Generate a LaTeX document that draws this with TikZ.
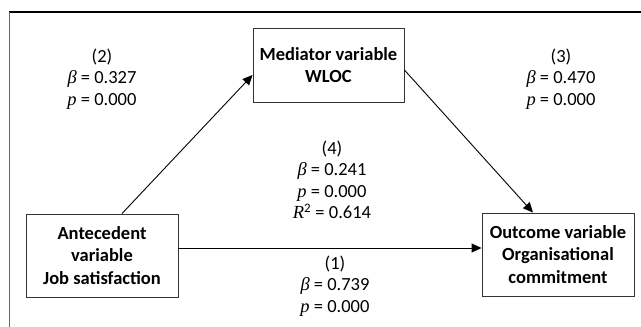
\documentclass[tikz,border=0pt]{standalone}
\usepackage{fontspec}
\setmainfont{Carlito}
\newfontfamily\serfont{Liberation Serif}
\usetikzlibrary{arrows.meta}
\newcommand{\mybeta}{{\serfont\itshape β}}
\newcommand{\myp}{{\serfont\itshape p}}
\newcommand{\myR}{{\serfont\itshape R}}
\begin{document}
\begin{tikzpicture}[x=1pt,y=-1pt,
  varbox/.style={draw=black!80, line width=0.9pt, align=center, font=\fontsize{18.5}{22.5}\selectfont\bfseries, inner sep=0pt},
  stat/.style={align=center, font=\fontsize{18.5}{21.5}\selectfont, inner sep=0pt},
  link/.style={line width=0.9pt, -{Triangle[length=10pt,width=9pt]}},
  frameline/.style={line width=1.3pt, black},
  frameside/.style={line width=0.9pt, black!60}]
\useasboundingbox (0,0) rectangle (641,327);
% frame
\coordinate (ftl) at (9,12);
\coordinate (ftr) at (641,12);
\coordinate (fbl) at (9,327);
\draw[frameline] (ftl) -- (ftr);
\draw[frameside] (ftl) -- (fbl);
% boxes
\node[varbox, minimum width=151pt, minimum height=74pt] (med) at (328.5,65) {Mediator variable\\WLOC};
\node[varbox, minimum width=152pt, minimum height=83pt] (ant) at (102,255.5) {Antecedent\\variable\\Job satisfaction};
\node[varbox, minimum width=152pt, minimum height=83pt] (out) at (558,254.5) {Outcome variable\\Organisational\\commitment};
% connectors
\draw[link] ([xshift=20pt]ant.north) -- ([yshift=-10pt]med.west);
\draw[link] ([yshift=-5pt]med.east) -- ([xshift=-25pt]out.north);
\draw[link] ([yshift=7.5pt]ant.east) -- ([yshift=6.5pt]out.west);
% statistics
\node[stat] (s2) at (102,79) {(2)\\\mybeta{} = 0.327\\\myp{} = 0.000};
\node[stat] (s3) at (561,79) {(3)\\\mybeta{} = 0.470\\\myp{} = 0.000};
\node[stat] (s4) at (332,180) {(4)\\\mybeta{} = 0.241\\\myp{} = 0.000\\\myR\textsuperscript{2} = 0.614};
\node[stat] (s1) at (335,286) {(1)\\\mybeta{} = 0.739\\\myp{} = 0.000};
\end{tikzpicture}
\end{document}
